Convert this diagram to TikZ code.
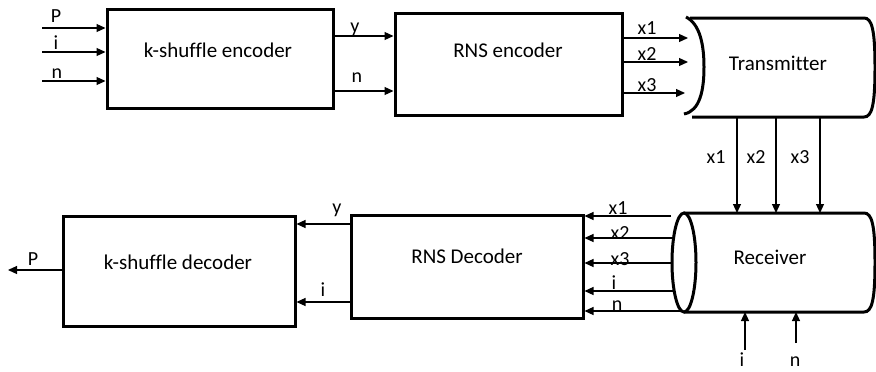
\documentclass[tikz,border=0pt]{standalone}
\usepackage{fontspec}
\setmainfont{Carlito}[Ligatures={NoCommon}]
\usetikzlibrary{arrows.meta}
\begin{document}
\begin{tikzpicture}[x=1pt,y=-1pt,
  blk/.style={draw, line width=3pt, inner sep=0pt},
  ghost/.style={inner sep=0pt, outer sep=0pt},
  ar/.style={line width=1.2pt, -{Triangle[length=9pt,width=8pt]}},
  cyl/.style={line width=3pt},
  lbl/.style={font=\fontsize{20}{22}\selectfont, inner sep=0pt},
  ttl/.style={font=\fontsize{21}{24}\selectfont, inner sep=0pt}]
\useasboundingbox (0,0) rectangle (876,372);

% boxes
\node[blk, minimum width=226pt, minimum height=99pt] (enc) at (220,58.5) {};
\node[blk, minimum width=227pt, minimum height=102pt] (rns) at (508.5,64) {};
\node[blk, minimum width=232pt, minimum height=110pt] (kdec) at (179,271) {};
\node[blk, minimum width=232pt, minimum height=103pt] (rdec) at (467,266.5) {};
\node[ttl] (encT) at (218,50) {k-shuffle encoder};
\node[ttl] (rnsT) at (508,50) {RNS encoder};
\node[ttl] (kdecT) at (178,262) {k-shuffle decoder};
\node[ttl] (rdecT) at (467,256) {RNS Decoder};

% cylinders
\node[ghost, minimum width=187pt, minimum height=99pt] (tx) at (781.5,67.5) {};
\node[ghost, minimum width=203pt, minimum height=99pt] (rx) at (773.5,262.5) {};
\draw[cyl] (690,18) -- (864,18) .. controls (872,18) and (875,30) .. (875,67.5)
  .. controls (875,105) and (872,117) .. (864,117) -- (692,117);
\draw[cyl] (686,17) .. controls (700,24) and (704,45) .. (704,67)
  .. controls (704,90) and (700,111) .. (684,114);
\draw[cyl] (684,213) -- (864,213) .. controls (872,213) and (875,225) .. (875,262.5)
  .. controls (875,300) and (872,312) .. (864,312) -- (684,312);
\draw[cyl] (684,262.5) ellipse [x radius=12, y radius=49.5];
\node[ttl] (txT) at (778,63) {Transmitter};
\node[ttl] (rxT) at (770,257) {Receiver};

% inputs to encoder
\coordinate (inP) at (42,28);
\coordinate (ini) at (42,52);
\coordinate (inn) at (42,81);
\draw[ar] (inP) -- (inP -| enc.west);
\draw[ar] (ini) -- (ini -| enc.west);
\draw[ar] (inn) -- (inn -| enc.west);
\node[lbl] (lP) at (56,16) {P};
\node[lbl] (li) at (56,43) {i};
\node[lbl] (ln) at (57,74) {n};

% encoder -> RNS encoder
\coordinate (ey) at (enc.east |- 0,36);
\coordinate (en) at (enc.east |- 0,91);
\draw[ar] (ey) -- (ey -| rns.west);
\draw[ar] (en) -- (en -| rns.west);
\node[lbl] (ly) at (355,29) {y};
\node[lbl] (ln2) at (357,78) {n};

% RNS encoder -> transmitter
\coordinate (r1) at (rns.east |- 0,38);
\coordinate (r2) at (rns.east |- 0,62);
\coordinate (r3) at (rns.east |- 0,93);
\draw[ar] (r1) -- (688,38);
\draw[ar] (r2) -- (688,62);
\draw[ar] (r3) -- (685,93);
\node[lbl] (lx1) at (647,28) {x1};
\node[lbl] (lx2) at (647,54) {x2};
\node[lbl] (lx3) at (647,85) {x3};

% transmitter -> receiver
\coordinate (t1) at (737,117);
\coordinate (t2) at (776,117);
\coordinate (t3) at (820,117);
\draw[ar] (t1) -- (t1 |- rx.north);
\draw[ar] (t2) -- (t2 |- rx.north);
\draw[ar] (t3) -- (t3 |- rx.north);
\node[lbl] (vx1) at (716,157) {x1};
\node[lbl] (vx2) at (756,157) {x2};
\node[lbl] (vx3) at (800,157) {x3};

% receiver -> RNS decoder
\coordinate (q1) at (671,216);
\coordinate (q2) at (673,238);
\coordinate (q3) at (672,263);
\coordinate (q4) at (673,291);
\coordinate (q5) at (681,311);
\foreach \q in {q1,q2,q3,q4,q5}{\draw[ar] (\q) -- (\q -| rdec.east);}
\node[lbl] (dx1) at (618,208) {x1};
\node[lbl] (dx2) at (620,233) {x2};
\node[lbl] (dx3) at (620,259) {x3};
\node[lbl] (di) at (614,283) {i};
\node[lbl] (dn) at (617,306) {n};

% inputs to receiver
\coordinate (bi) at (745,350);
\coordinate (bn) at (796,343);
\draw[ar] (bi) -- (bi |- rx.south);
\draw[ar] (bn) -- (bn |- rx.south);
\node[lbl] (bil) at (742,360) {i};
\node[lbl] (bnl) at (795,362) {n};

% RNS decoder -> k-shuffle decoder
\coordinate (dy) at (rdec.west |- 0,224);
\coordinate (dii) at (rdec.west |- 0,302);
\draw[ar] (dy) -- (dy -| kdec.east);
\draw[ar] (dii) -- (dii -| kdec.east);
\node[lbl] (dyl) at (337,210) {y};
\node[lbl] (dil) at (323,290) {i};

% output P
\coordinate (outP) at (8,270);
\draw[ar] (kdec.west |- outP) -- (outP);
\node[lbl] (oPl) at (33,259) {P};
\end{tikzpicture}
\end{document}
